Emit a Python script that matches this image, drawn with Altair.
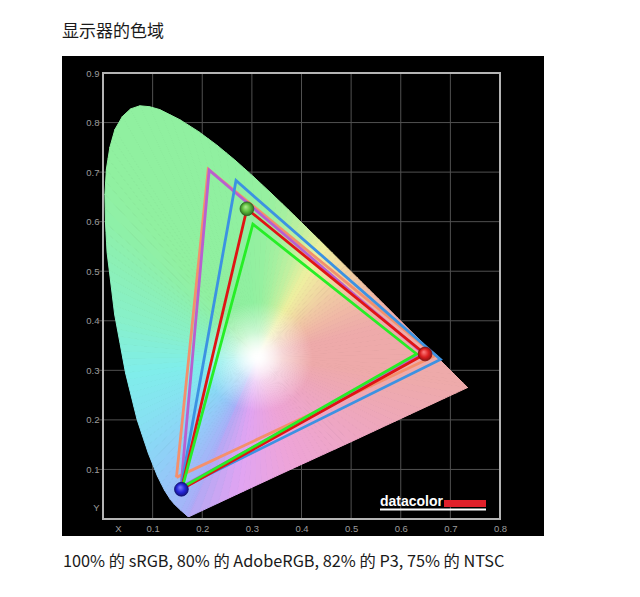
import math
import altair as alt
import pandas as pd

# ---------------- data ----------------
title_text = ["显示器的色域"]
caption_text = ["100% 的 sRGB, 80% 的 AdobeRGB, 82% 的 P3, 75% 的 NTSC"]
logo_text = ["datacolor"]

# spectral locus (horseshoe outline)
locus_x = [0.1741, 0.1714, 0.1689, 0.1644, 0.1566, 0.1440, 0.1355, 0.1241, 0.1096, 0.0913,
           0.0687, 0.0454, 0.0235, 0.0082, 0.0050, 0.0039, 0.0068, 0.0139, 0.0240, 0.0389,
           0.0555, 0.0743, 0.0940, 0.1142, 0.1547,
           0.1929, 0.2296, 0.2658, 0.3016, 0.3373, 0.3731, 0.4087, 0.4441, 0.4788, 0.5125,
           0.5448, 0.5752, 0.6029, 0.6270, 0.6658, 0.6915, 0.7079, 0.7190, 0.7260, 0.7347]
locus_y = [0.0050, 0.0051, 0.0069, 0.0109, 0.0177, 0.0297, 0.0399, 0.0578, 0.0868, 0.1327,
           0.2007, 0.2950, 0.4127, 0.5384, 0.5980, 0.6548, 0.7060, 0.7502, 0.7860, 0.8120,
           0.8275, 0.8338, 0.8320, 0.8262, 0.8059,
           0.7816, 0.7543, 0.7243, 0.6923, 0.6589, 0.6245, 0.5896, 0.5547, 0.5202, 0.4866,
           0.4544, 0.4242, 0.3965, 0.3725, 0.3340, 0.3083, 0.2920, 0.2809, 0.2740, 0.2653]
# colour seen at each locus point
locus_colors = ["#b4a8f4", "#b0aaf6", "#acacf8", "#a8b0f8", "#a4b4f8", "#a0baf8", "#9cbff8",
                "#98c4f8", "#92ccf8", "#8cd6f6", "#86e2f2", "#80eeea", "#88f0c8", "#8cf0b4",
                "#8ef0aa", "#90f0a4"] + ["#90f0a0"] * 12 + \
               ["#92f0a0", "#98f0a0", "#a8f0a0", "#c4f0a0", "#eef0a0", "#f0dca2", "#f0c8a4",
                "#f0baa6", "#eeb0a8"] + ["#eeaaaa"] * 8
# purple line (red end back to violet end)
purple_x = [0.62, 0.50, 0.38, 0.27]
purple_y = [0.212, 0.156, 0.101, 0.050]
purple_colors = ["#eea8b4", "#eea6c4", "#eea4d8", "#e0a4f2"]
white_x, white_y = 0.312, 0.327

# gamut triangles (blue, green, red primaries)
gamuts = [
    ("NTSC", [0.148, 0.212, 0.670], [0.084, 0.706, 0.330], "#f4906c"),
    ("AdobeRGB", [0.157, 0.214, 0.645], [0.064, 0.704, 0.334], "#b860d0"),
    ("P3", [0.157, 0.268, 0.680], [0.062, 0.683, 0.322], "#3c92e2"),
    ("Display", [0.158, 0.290, 0.649], [0.060, 0.626, 0.333], "#e01414"),
    ("sRGB", [0.160, 0.302, 0.632], [0.064, 0.595, 0.333], "#26ee26"),
]
# measured primaries (spheres)
dot_x = [0.158, 0.290, 0.649]
dot_y = [0.060, 0.626, 0.333]
dot_light = ["#8080ff", "#b0f090", "#ff8080"]
dot_color = ["#2424d8", "#58b838", "#dc2020"]
dot_edge = ["#101070", "#2a6020", "#801010"]

x_ticks = [0.03, 0.1, 0.2, 0.3, 0.4, 0.5, 0.6, 0.7, 0.8]
y_ticks = [0.023, 0.1, 0.2, 0.3, 0.4, 0.5, 0.6, 0.7, 0.8, 0.9]
grid_x = [0.1, 0.2, 0.3, 0.4, 0.5, 0.6, 0.7]
grid_y = [0.1, 0.2, 0.3, 0.4, 0.5, 0.6, 0.7, 0.8]

# ---------------- chart ----------------
W, H = 397, 446
xs = alt.Scale(domain=[0, 0.8], nice=False)
ys = alt.Scale(domain=[0, 0.9], nice=False)
xaxis = alt.Axis(values=x_ticks, labelExpr="datum.value < 0.05 ? 'X' : format(datum.value, '.1f')",
                 labelColor="#9c9c9c", labelFont="Liberation Sans", labelFontSize=9.5,
                 labelPadding=4, domain=False, ticks=False, grid=False, title="", zindex=1,
                 labelFlush=False)
yaxis = alt.Axis(values=y_ticks, labelExpr="datum.value < 0.05 ? 'Y' : format(datum.value, '.1f')",
                 labelColor="#9c9c9c", labelFont="Liberation Sans", labelFontSize=9.5,
                 labelPadding=4, domain=False, ticks=False, grid=False, title="", zindex=1,
                 labelFlush=False)
X = alt.X("x:Q", scale=xs, axis=xaxis)
Y = alt.Y("y:Q", scale=ys, axis=yaxis)

one = pd.DataFrame({"t": ["bg"]})
layers = []

# black panel
layers.append(alt.Chart(one).mark_rect(color="#000000").encode(
    x=alt.value(-41), x2=alt.value(441), y=alt.value(-17), y2=alt.value(463)))

# grid
layers.append(alt.Chart(pd.DataFrame({"x": grid_x})).mark_rule(color="#505050", strokeWidth=1)
              .encode(x=X))
layers.append(alt.Chart(pd.DataFrame({"y": grid_y})).mark_rule(color="#505050", strokeWidth=1)
              .encode(y=Y, x=alt.value(-5), x2=alt.value(W)))


def hex2rgb(h):
    return [int(h[i:i + 2], 16) for i in (1, 3, 5)]


def mix(c1, c2, t):
    a, b = hex2rgb(c1), hex2rgb(c2)
    return "#" + "".join("%02x" % round(a[k] + (b[k] - a[k]) * t) for k in range(3))


def wedge(px, py, qx, qy, col, d0=0.11):
    tx = [white_x, px, qx, white_x]
    ty = [white_y, py, qy, white_y]
    xmin, xmax, ymin, ymax = min(tx), max(tx), min(ty), max(ty)
    bw, bh = max(xmax - xmin, 1e-6), max(ymax - ymin, 1e-6)
    mx, my = (px + qx) / 2, (py + qy) / 2
    dist = math.hypot(mx - white_x, my - white_y)
    vx, vy = (mx - white_x) / dist, -(my - white_y) / dist
    a1, b1 = (white_x - xmin) / bw, (ymax - white_y) / bh
    k = dist / (vx * vx * bw * bw + vy * vy * bh * bh)
    s = min(0.95, d0 / dist)
    g = alt.LinearGradient(
        gradient="linear",
        stops=[alt.GradientStop(color="#ffffff", offset=0),
               alt.GradientStop(color=col, offset=s),
               alt.GradientStop(color=col, offset=1)],
        x1=a1, y1=b1, x2=a1 + k * vx * bw, y2=b1 + k * vy * bh)
    df = pd.DataFrame({"x": tx, "y": ty, "o": [0, 1, 2, 3]})
    return alt.Chart(df).mark_line(fill=g, stroke=g, strokeWidth=1, strokeJoin="round") \
        .encode(x=X, y=Y, order="o:Q")


# horseshoe: fan of gradient wedges round the white point
rim_x = locus_x + purple_x + [locus_x[0]]
rim_y = locus_y + purple_y + [locus_y[0]]
rim_c = locus_colors + purple_colors + [locus_colors[0]]
max_step = math.radians(3.0)
for i in range(len(rim_x) - 1):
    px, py, qx, qy = rim_x[i], rim_y[i], rim_x[i + 1], rim_y[i + 1]
    a_p = math.atan2(py - white_y, px - white_x)
    a_q = math.atan2(qy - white_y, qx - white_x)
    span = abs((a_q - a_p + math.pi) % (2 * math.pi) - math.pi)
    n = max(1, math.ceil(span / max_step))
    for j in range(n):
        t0, t1 = j / n, (j + 1) / n
        sx, sy = px + (qx - px) * t0, py + (qy - py) * t0
        ex, ey = px + (qx - px) * t1, py + (qy - py) * t1
        layers.append(wedge(sx, sy, ex, ey, mix(rim_c[i], rim_c[i + 1], (t0 + t1) / 2)))

# small white glow at the white point
glow = alt.RadialGradient(
    gradient="radial",
    stops=[alt.GradientStop(color="rgba(255,255,255,0.9)", offset=0),
           alt.GradientStop(color="rgba(255,255,255,0.35)", offset=0.45),
           alt.GradientStop(color="rgba(255,255,255,0)", offset=1)],
    x1=0.5, y1=0.5, r1=0, x2=0.5, y2=0.5, r2=0.5)
layers.append(alt.Chart(pd.DataFrame({"x": [white_x], "y": [white_y]}))
              .mark_point(filled=True, shape="circle", size=2400, fill=glow, strokeWidth=0,
                          opacity=1)
              .encode(x=X, y=Y))

# gamut triangles
for name, gx, gy, col in gamuts:
    df = pd.DataFrame({"x": gx + [gx[0]], "y": gy + [gy[0]], "o": [0, 1, 2, 3]})
    layers.append(alt.Chart(df).mark_line(color=col, strokeWidth=2.8, strokeJoin="miter")
                  .encode(x=X, y=Y, order="o:Q"))

# spheres at the measured primaries
for i in range(3):
    rg = alt.RadialGradient(
        gradient="radial",
        stops=[alt.GradientStop(color=dot_light[i], offset=0),
               alt.GradientStop(color=dot_color[i], offset=0.55),
               alt.GradientStop(color=dot_edge[i], offset=1)],
        x1=0.4, y1=0.35, r1=0, x2=0.5, y2=0.5, r2=0.55)
    df = pd.DataFrame({"x": [dot_x[i]], "y": [dot_y[i]]})
    layers.append(alt.Chart(df).mark_point(filled=True, shape="circle", size=190, fill=rg,
                                           stroke=dot_edge[i], strokeWidth=0.8, opacity=1)
                  .encode(x=X, y=Y))

# frame
layers.append(alt.Chart(one).mark_rect(fill="transparent", stroke="#b4b4b4", strokeWidth=2)
              .encode(x=alt.value(0), x2=alt.value(W), y=alt.value(0), y2=alt.value(H)))

# datacolor logo
layers.append(alt.Chart(pd.DataFrame({"t": logo_text})).mark_text(
    color="#ffffff", font="Liberation Sans", fontWeight="bold", fontSize=14,
    align="left", baseline="alphabetic").encode(x=alt.value(277), y=alt.value(433), text="t:N"))
layers.append(alt.Chart(one).mark_rect(color="#e0202a").encode(
    x=alt.value(341), x2=alt.value(383), y=alt.value(427), y2=alt.value(434)))
layers.append(alt.Chart(one).mark_rect(color="#ffffff").encode(
    x=alt.value(277), x2=alt.value(383), y=alt.value(435.5), y2=alt.value(437.5)))

# title and caption
layers.append(alt.Chart(pd.DataFrame({"t": title_text})).mark_text(
    color="#1a1a1a", font="Noto Sans CJK SC", fontSize=17, align="left", baseline="middle")
    .encode(x=alt.value(-41), y=alt.value(-41), text="t:N"))
layers.append(alt.Chart(pd.DataFrame({"t": caption_text})).mark_text(
    color="#1a1a1a", font="Noto Sans CJK SC", fontSize=16.3, align="left", baseline="middle")
    .encode(x=alt.value(-40), y=alt.value(488.5), text="t:N"))

chart = alt.layer(*layers).properties(
    width=W, height=H,
    padding={"left": 95, "top": 65, "right": 132, "bottom": 70},
    autosize=alt.AutoSizeParams(type="none"),
    background="#ffffff",
).configure_view(strokeWidth=0)

chart.save("out.html", embed_options={"renderer": "svg", "actions": False})
